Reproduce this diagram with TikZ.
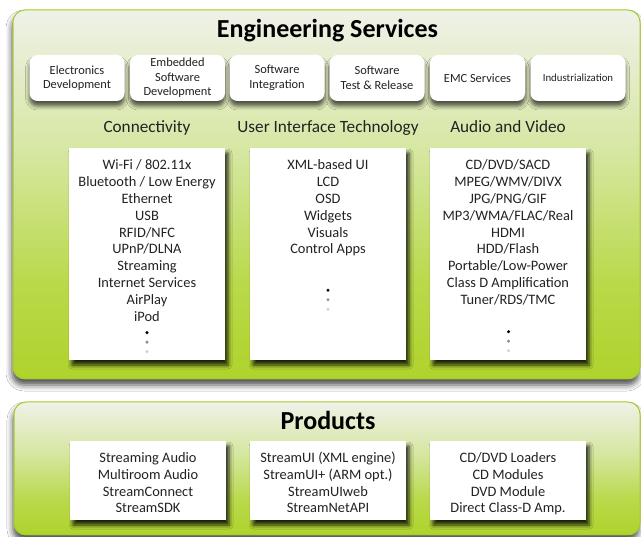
\documentclass[tikz,border=0pt]{standalone}
\usepackage{fontspec}
\setmainfont{Carlito}
\usetikzlibrary{shadows.blur}
\definecolor{gBorder}{HTML}{A6CC2A}
\definecolor{gBot}{HTML}{AFD32C}
\definecolor{gBotB}{HTML}{B9D94A}
\definecolor{gMid}{HTML}{D6E7A2}
\definecolor{gTop}{HTML}{EFF1E8}
\definecolor{dotB}{HTML}{909090}
\definecolor{dotC}{HTML}{D2D2D2}
\definecolor{txt}{HTML}{222222}
\pgfdeclareverticalshading{greenshade}{100bp}{color(0bp)=(gBot); color(25bp)=(gBot); color(38bp)=(gBotB); color(56bp)=(gMid); color(75bp)=(gTop); color(100bp)=(gTop)}
\newcommand{\svcfont}{\fontsize{12.4}{14.5}\selectfont}
\newcommand{\lstfont}{\fontsize{14.4}{16.8}\selectfont}
\tikzset{
  panel/.style={draw=gBorder, line width=1pt, rounded corners=12pt, shading=greenshade,
    inner sep=0pt, blur shadow={shadow xshift=-1pt, shadow yshift=-6pt, shadow blur radius=6pt, shadow opacity=70}},
  svcbox/.style={fill=white, rounded corners=8pt, inner sep=0pt, align=center, font=\svcfont, text=txt,
    minimum width=95pt, minimum height=46pt,
    blur shadow={shadow xshift=0pt, shadow yshift=-5pt, shadow blur radius=4pt, shadow opacity=65}},
  listbox/.style={fill=white, inner sep=0pt, minimum width=156pt,
    blur shadow={shadow xshift=3pt, shadow yshift=-5pt, shadow blur radius=4pt, shadow opacity=85}},
  titletxt/.style={anchor=base, inner sep=0pt, font=\fontsize{26}{30}\selectfont\bfseries},
  headtxt/.style={anchor=base, inner sep=0pt, text=txt, font=\fontsize{17.2}{20}\selectfont},
  itemtxt/.style={anchor=base, inner sep=0pt, text=txt, font=\lstfont},
  dotnode/.style={circle, inner sep=0pt, minimum size=3.4pt}
}
\begin{document}
\begin{tikzpicture}[x=1pt,y=-1pt]
\useasboundingbox[fill=white] (0,0) rectangle (641,537);
% panels
\node[panel, minimum width=627pt, minimum height=369pt] (eng) at (326.5,194.5) {};
\node[panel, minimum width=626pt, minimum height=133pt] (prod) at (327,468.5) {};
% titles
\node[titletxt] (engt) at (327.5,37.3) {Engineering Services};
\node[titletxt] (prodt) at (328,429.5) {Products};
% service boxes
\node[svcbox] (s1) at (77,78) {Electronics\\Development};
\node[svcbox] (s2) at (177.5,78) {Embedded\\Software\\Development};
\node[svcbox] (s3) at (277,78) {Software\\Integration};
\node[svcbox] (s4) at (377,78) {Software\\Test \& Release};
\node[svcbox] (s5) at (477.5,78) {EMC Services};
\node[svcbox, font=\fontsize{10.8}{13}\selectfont] (s6) at (578,78) {Industrialization};
% headings
\node[headtxt] (h1) at (147,133) {Connectivity};
\node[headtxt] (h2) at (328,133) {User Interface Technology};
\node[headtxt] (h3) at (508,133) {Audio and Video};
% list boxes
\node[listbox, minimum height=212pt] (c1) at (147,254) {};
\node[listbox, minimum height=212pt] (c2) at (328,254) {};
\node[listbox, minimum height=212pt] (c3) at (508,254) {};
\foreach \t [count=\i] in {{Wi-Fi / 802.11x},{Bluetooth / Low Energy},{Ethernet},{USB},{RFID/NFC},{UPnP/DLNA},{Streaming},{Internet Services},{AirPlay},{iPod}}
  \node[itemtxt] (ca\i) at (147,{170+16.8*(\i-1)}) {\t};
\foreach \t [count=\i] in {{XML-based UI},{LCD},{OSD},{Widgets},{Visuals},{Control Apps}}
  \node[itemtxt] (cb\i) at (328,{170+16.8*(\i-1)}) {\t};
\foreach \t [count=\i] in {{CD/DVD/SACD},{MPEG/WMV/DIVX},{JPG/PNG/GIF},{MP3/WMA/FLAC/Real},{HDMI},{HDD/Flash},{Portable/Low-Power},{Class D Amplification},{Tuner/RDS/TMC}}
  \node[itemtxt] (cc\i) at (508,{170+16.8*(\i-1)}) {\t};
% dots
\node[dotnode, fill=black] (da1) at (147,332.7) {};
\node[dotnode, fill=dotB] (da2) at (147,342.2) {};
\node[dotnode, fill=dotC] (da3) at (147,351.7) {};
\node[dotnode, fill=black] (db1) at (328,290.3) {};
\node[dotnode, fill=dotB] (db2) at (328,299.8) {};
\node[dotnode, fill=dotC] (db3) at (328,309.3) {};
\node[dotnode, fill=black] (dc1) at (508.5,331.7) {};
\node[dotnode, fill=dotB] (dc2) at (508.5,341.2) {};
\node[dotnode, fill=dotC] (dc3) at (508.5,350.7) {};
% product boxes
\node[listbox, minimum height=79pt] (p1) at (148,480.5) {};
\node[listbox, minimum height=79pt] (p2) at (328,480.5) {};
\node[listbox, minimum height=79pt] (p3) at (508,480.5) {};
\foreach \t [count=\i] in {{Streaming Audio},{Multiroom Audio},{StreamConnect},{StreamSDK}}
  \node[itemtxt] (pa\i) at (148,{462.7+16.7*(\i-1)}) {\t};
\foreach \t [count=\i] in {{StreamUI (XML engine)},{StreamUI+ (ARM opt.)},{StreamUIweb},{StreamNetAPI}}
  \node[itemtxt] (pb\i) at (328,{462.7+16.7*(\i-1)}) {\t};
\foreach \t [count=\i] in {{CD/DVD Loaders},{CD Modules},{DVD Module},{Direct Class-D Amp.}}
  \node[itemtxt] (pc\i) at (508,{462.7+16.7*(\i-1)}) {\t};
\end{tikzpicture}
\end{document}
